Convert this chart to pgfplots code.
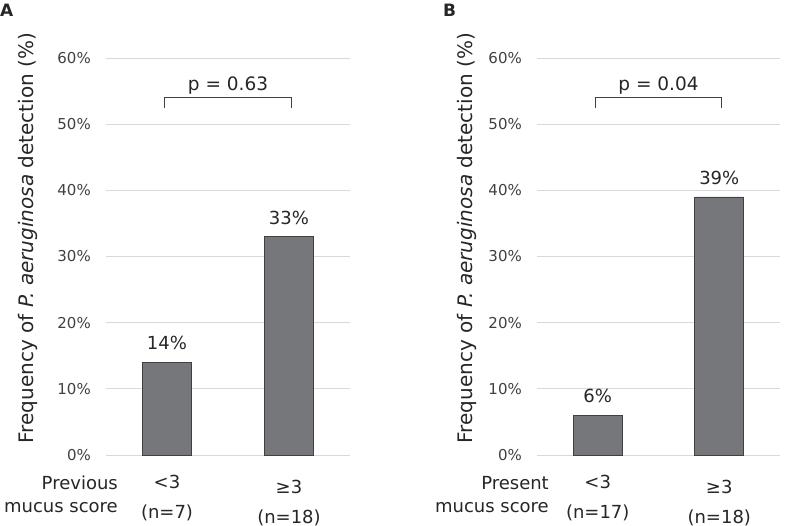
\documentclass[border=0pt]{standalone}
\usepackage{fontspec}
\setmainfont{DejaVu Sans}
\usepackage{pgfplots}
\pgfplotsset{compat=1.18}
\definecolor{barfill}{RGB}{118,119,123}
\definecolor{bardraw}{RGB}{64,64,64}
\definecolor{gridc}{RGB}{217,217,217}
\definecolor{txt}{RGB}{38,38,38}
\definecolor{tick}{RGB}{64,64,64}
\pgfplotsset{
  panel/.style={
    scale only axis,
    width=244pt, height=397pt,
    anchor=south west,
    xmin=-0.5, xmax=1.5,
    ymin=0, ymax=60,
    ytick={0,10,20,30,40,50,60},
    yticklabel={\pgfmathprintnumber{\tick}\%},
    /pgf/number format/assume math mode=true,
    yticklabel style={font=\fontsize{15}{18}\selectfont, text=tick, inner sep=0pt, xshift=-15pt},
    xtick={0,1},
    xticklabel style={font=\fontsize{18}{30}\selectfont, text=txt, align=center, inner sep=0pt, anchor=north},
    tick style={draw=none},
    major tick length=0pt,
    axis line style={draw=none},
    ymajorgrids,
    grid style={draw=gridc, line width=0.9pt},
    ybar, bar width=49pt, bar shift=0pt,
    clip=false,
    nodes near coords={\pgfmathprintnumber{\pgfplotspointmeta}\%},
    nodes near coords style={anchor=base, yshift=12.5pt, inner sep=0pt, font=\fontsize{18}{22}\selectfont, text=txt, /pgf/number format/assume math mode=true},
  }
}
\begin{document}
\begin{tikzpicture}
\path[use as bounding box] (0,0) rectangle (787pt,526pt);
% Panel A
\node[anchor=base west, inner sep=0pt, font=\bfseries\fontsize{17}{20}\selectfont, text=txt] at (0pt,509pt) {A};
\node[rotate=90, anchor=base, inner sep=0pt, font=\fontsize{20}{24}\selectfont, text=txt] at (33pt,288pt) {Frequency of \textit{P. aeruginosa} detection (\%)};
\begin{axis}[panel, at={(106pt,71pt)},
  xticklabels={{\rule{0pt}{33pt}<3\\(n=7)},{\rule{0pt}{38pt}≥3\\(n=18)}}]
\addplot[fill=barfill, draw=bardraw, line width=0.7pt] coordinates {(0,14) (1,33)};
\draw[bardraw, line width=0.9pt] (axis cs:-0.02,52.4) -- (axis cs:-0.02,54.1) -- (axis cs:1.02,54.1) -- (axis cs:1.02,52.4);
\node[anchor=base, inner sep=0pt, font=\fontsize{18.5}{22}\selectfont, text=txt] at (axis cs:0.5,55.1) {p = 0.63};
\node[anchor=base east, inner sep=0pt, font=\fontsize{18}{22}\selectfont, text=txt] at ([xshift=12pt, yshift=-35pt]axis cs:-0.5,0) {Previous};
\node[anchor=base east, inner sep=0pt, font=\fontsize{18}{22}\selectfont, text=txt] at ([xshift=12pt, yshift=-57.7pt]axis cs:-0.5,0) {mucus score};
\end{axis}
% Panel B
\node[anchor=base west, inner sep=0pt, font=\bfseries\fontsize{17}{20}\selectfont, text=txt] at (443pt,509pt) {B};
\node[rotate=90, anchor=base, inner sep=0pt, font=\fontsize{20}{24}\selectfont, text=txt] at (472pt,288pt) {Frequency of \textit{P. aeruginosa} detection (\%)};
\begin{axis}[panel, at={(537pt,71pt)}, width=243pt,
  xticklabels={{\rule{0pt}{33pt}<3\\(n=17)},{\rule{0pt}{38pt}≥3\\(n=18)}}]
\addplot[fill=barfill, draw=bardraw, line width=0.7pt] coordinates {(0,6) (1,39)};
\draw[bardraw, line width=0.9pt] (axis cs:-0.02,52.4) -- (axis cs:-0.02,54.1) -- (axis cs:1.02,54.1) -- (axis cs:1.02,52.4);
\node[anchor=base, inner sep=0pt, font=\fontsize{18.5}{22}\selectfont, text=txt] at (axis cs:0.5,55.1) {p = 0.04};
\node[anchor=base east, inner sep=0pt, font=\fontsize{18}{22}\selectfont, text=txt] at ([xshift=12pt, yshift=-35pt]axis cs:-0.5,0) {Present};
\node[anchor=base east, inner sep=0pt, font=\fontsize{18}{22}\selectfont, text=txt] at ([xshift=12pt, yshift=-57.7pt]axis cs:-0.5,0) {mucus score};
\end{axis}
\end{tikzpicture}
\end{document}
